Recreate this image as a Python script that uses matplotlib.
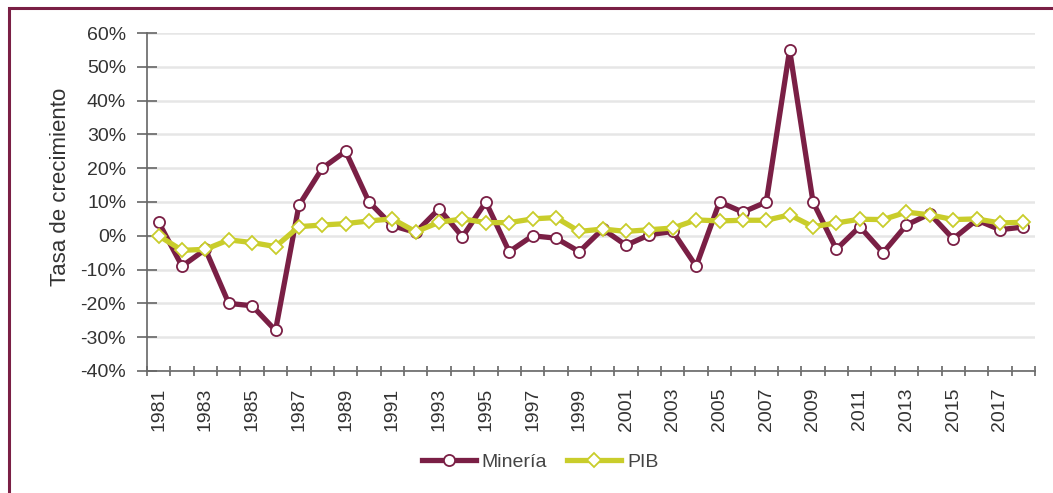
import matplotlib
matplotlib.use("Agg")
import matplotlib.pyplot as plt
from matplotlib.patches import Rectangle
from matplotlib.ticker import FuncFormatter, MultipleLocator
import numpy as np

plt.rcParams['font.family'] = ['Liberation Sans', 'DejaVu Sans']

# Data (growth rates in %)
years = list(range(1981, 2019))
mineria = [4, -9, -4, -20, -20.7, -28, 9, 20, 25, 10,
           3, 1, 8, -0.3, 10, -4.7, 0, -0.7, -4.7, 2,
           -2.8, 0.3, 1.3, -9, 10, 7, 10, 55, 10, -4,
           2.7, -5, 3.2, 6.5, -0.9, 4.7, 1.8, 2.6]
pib = [0, -4.3, -4, -1.2, -2, -3.2, 2.7, 3.2, 3.6, 4.4,
       5, 1.2, 4, 5, 3.9, 3.9, 5, 5.4, 1.3, 2,
       1.3, 1.8, 2.3, 4.7, 4.4, 4.6, 4.6, 6.2, 2.7, 3.8,
       4.9, 4.8, 7, 6.2, 4.8, 5, 3.8, 4]
tick_years = years[::2]

c_min = '#7a1f45'
c_pib = '#c9cd2b'

fig = plt.figure(figsize=(10.53, 4.93), dpi=100)
ax = fig.add_axes([147/1053, 1-371/493, (1035-147)/1053, (371-33)/493])

x = np.arange(len(years))
ax.plot(x, mineria, color=c_min, lw=3.8, marker='o', ms=8, mfc='white',
        mec=c_min, mew=1.3, label='Minería', zorder=3)
ax.plot(x, pib, color=c_pib, lw=3.8, marker='D', ms=7, mfc='white',
        mec=c_pib, mew=1.3, label='PIB', zorder=4)

ax.set_xlim(-0.5, len(years) - 0.5)
ax.set_ylim(-40, 60)
ax.yaxis.set_major_locator(MultipleLocator(10))
ax.yaxis.set_major_formatter(FuncFormatter(lambda v, p: '%d%%' % round(v)))

ax.set_xticks(x[::2])
ax.set_xticklabels([str(y) for y in tick_years], rotation=90)
ax.set_xticks(np.arange(len(years) + 1) - 0.5, minor=True)
ax.tick_params(axis='x', which='major', length=0, pad=12, labelsize=14, colors='#333333')
ax.tick_params(axis='x', which='minor', length=7, width=1.2, direction='inout', color='#666666')
ax.tick_params(axis='y', length=14, width=1.2, direction='inout', color='#666666',
               labelsize=14, labelcolor='#333333', pad=8)

ax.grid(axis='y', color='#e6e6e6', lw=1.8)
ax.set_axisbelow(True)
for s in ['top', 'right']:
    ax.spines[s].set_visible(False)
for s in ['left', 'bottom']:
    ax.spines[s].set_color('#666666')
    ax.spines[s].set_linewidth(1.2)

ax.set_ylabel('Tasa de crecimiento', fontsize=16, color='#333333')
ax.yaxis.set_label_coords(-0.086, 0.545)

fig.legend(loc='center', bbox_to_anchor=(540/1053, 1-462/493), ncol=2, frameon=False,
           fontsize=14, handlelength=2.8, handletextpad=0.3, columnspacing=1.0,
           labelcolor='#444444')

# maroon frame around the chart
fig.patches.append(Rectangle((9/1053, -0.1), 1.2, 1-8/493+0.1, transform=fig.transFigure,
                             fill=False, edgecolor=c_min, lw=2.2))

fig.savefig('out.png', dpi=100)
